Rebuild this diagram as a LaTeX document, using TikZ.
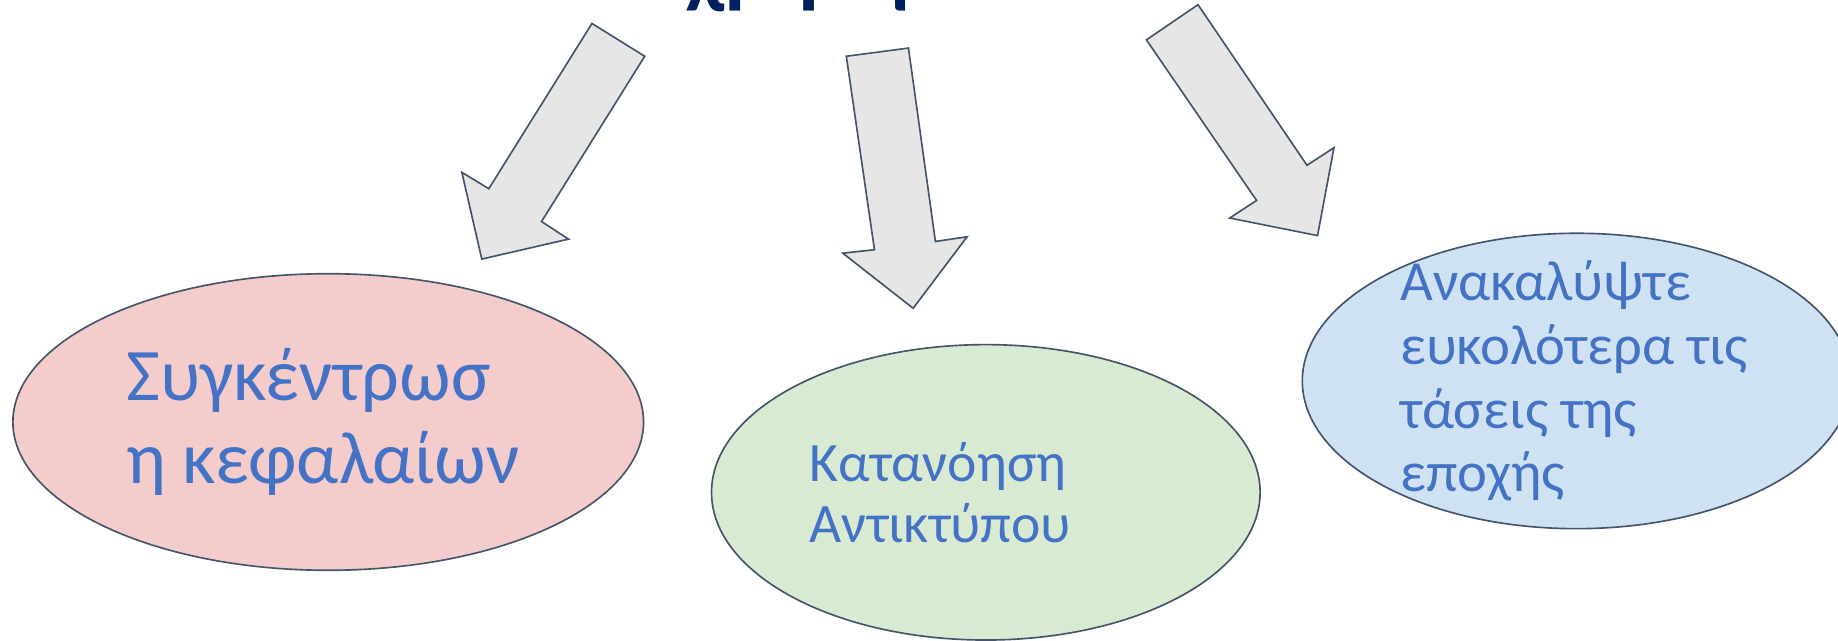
\documentclass[tikz,border=0pt]{standalone}
\usepackage{fontspec}
\setmainfont{Carlito}
\usepackage{tikz}
\usetikzlibrary{shapes.geometric, positioning, calc}
\definecolor{titlecolor}{RGB}{0,32,96}
\definecolor{bodyblue}{RGB}{68,114,196}
\definecolor{edgecolor}{RGB}{68,84,106}
\definecolor{arrowfill}{RGB}{230,230,230}
\definecolor{pinkfill}{RGB}{244,204,204}
\definecolor{greenfill}{RGB}{217,234,211}
\definecolor{bluefill}{RGB}{207,226,243}

\begin{document}
\begin{tikzpicture}[
    x=0.2mm, y=-0.2mm,
    bubble/.style={ellipse, draw=edgecolor, line width=0.8pt, inner sep=0pt},
    blurb/.style={align=left, text=bodyblue, inner sep=0pt, anchor=west},
    bigarrow/.style={draw=edgecolor, fill=arrowfill, line width=0.8pt, line join=miter}
]
    \useasboundingbox (0,0) rectangle (1568,546);
    \clip (0,0) rectangle (1568,546);

    % Title (cut off at the top)
    \node[font=\bfseries\fontsize{42}{46}\selectfont, text=titlecolor, anchor=base] (title) at (712,-2.5) {Σε τι χρησιμεύουν};

    % Block arrows
    \draw[bigarrow] (505,20) -- (550,48) -- (462,189) -- (485,204) -- (411,221) -- (394,147) -- (417,161) -- cycle;
    \draw[bigarrow] (722,48) -- (775,41) -- (798,206) -- (825,202) -- (779,263) -- (719,216) -- (746,213) -- cycle;
    \draw[bigarrow] (978,34) -- (1022,4) -- (1115,141) -- (1138,126) -- (1124,201) -- (1049,186) -- (1072,171) -- cycle;

    % Ellipses
    \node[bubble, fill=pinkfill, minimum width=107.6mm, minimum height=50.6mm] (capital) at (280,360) {};
    \node[bubble, fill=greenfill, minimum width=93.6mm, minimum height=50.4mm] (impact) at (841,420) {};
    \node[bubble, fill=bluefill, minimum width=93.6mm, minimum height=50.4mm] (trends) at (1345,325) {};

    % Texts
    \node[blurb, font=\fontsize{36}{40}\selectfont] (capitaltext) at ([xshift=19.4mm]capital.west) {Συγκέντρωσ\\η κεφαλαίων};
    \node[blurb, font=\fontsize{27}{29.5}\selectfont] (impacttext) at ([xshift=16.8mm]impact.west) {Κατανόηση\\Αντικτύπου};
    \node[blurb, font=\fontsize{27.5}{31}\selectfont] (trendstext) at ([xshift=16.8mm]trends.west) {Ανακαλύψτε\\ευκολότερα τις\\τάσεις της\\εποχής};
\end{tikzpicture}
\end{document}
